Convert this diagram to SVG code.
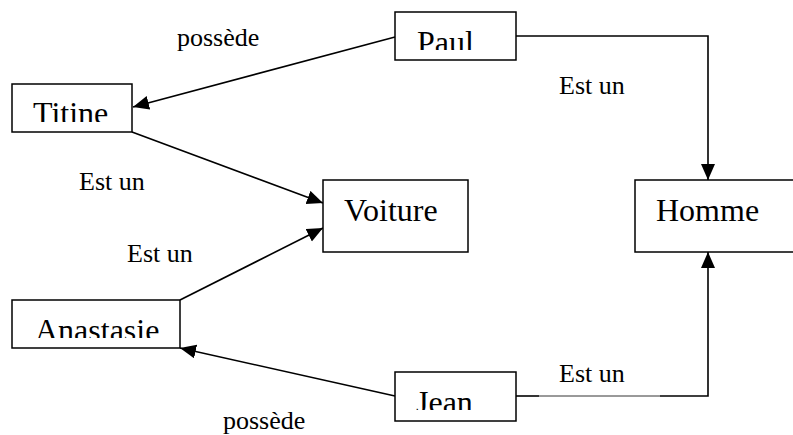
<svg xmlns="http://www.w3.org/2000/svg" width="793" height="435" viewBox="0 0 793 435">
  <style>
    .box { fill: #ffffff; stroke: #000000; stroke-width: 1.5; }
    .ntext { font-family: "Liberation Serif", "Times New Roman", serif; font-size: 32px; fill: #000000; }
    .ltext { font-family: "Liberation Serif", "Times New Roman", serif; font-size: 26px; fill: #000000; }
    .edge { fill: none; stroke: #000000; stroke-width: 1.6; }
    .thin { fill: none; stroke: #000000; stroke-width: 0.8; }
  </style>
  <defs>
    <marker id="arrow" markerUnits="userSpaceOnUse" markerWidth="17" markerHeight="15" refX="16" refY="7" orient="auto">
      <path d="M0,0 L16,7 L0,14 z" fill="#000000"/>
    </marker>
    <clipPath id="clipTitine"><rect x="12" y="84" width="120" height="38"/></clipPath>
    <clipPath id="clipPaul"><rect x="395" y="12" width="121" height="38"/></clipPath>
    <clipPath id="clipAnastasie"><rect x="12" y="300" width="168" height="38"/></clipPath>
    <clipPath id="clipJean"><rect x="395" y="372" width="121" height="38"/></clipPath>
  </defs>
  <rect x="0" y="0" width="793" height="435" fill="#ffffff"/>

  <g id="connectors">
    <path class="edge" d="M395,37 L133,107" marker-end="url(#arrow)"/>
    <path class="edge" d="M132,132 L323,203" marker-end="url(#arrow)"/>
    <path class="edge" d="M516,36 H708 V180" marker-end="url(#arrow)"/>
    <path class="edge" d="M180,300 L323,228" marker-end="url(#arrow)"/>
    <path class="edge" d="M395,396 L180,348" marker-end="url(#arrow)"/>
    <path class="edge" d="M516,396 H539"/>
    <path class="thin" d="M539,396 H660"/>
    <path class="edge" d="M660,396 H708 V252" marker-end="url(#arrow)"/>
  </g>

  <g id="labels">
    <text class="ltext" x="177" y="46">possède</text>
    <text class="ltext" x="559" y="94">Est un</text>
    <text class="ltext" x="79" y="190">Est un</text>
    <text class="ltext" x="127" y="262">Est un</text>
    <text class="ltext" x="559" y="382">Est un</text>
    <text class="ltext" x="223" y="429">possède</text>
  </g>

  <g id="node-paul">
    <rect class="box" x="395" y="12" width="121" height="48"/>
    <text class="ntext" x="417" y="53" clip-path="url(#clipPaul)">Paul</text>
  </g>
  <g id="node-titine">
    <rect class="box" x="12" y="84" width="120" height="48"/>
    <text class="ntext" x="33" y="124" clip-path="url(#clipTitine)">Titine</text>
  </g>
  <g id="node-voiture">
    <rect class="box" x="323" y="180" width="145" height="72"/>
    <text class="ntext" x="344" y="221">Voiture</text>
  </g>
  <g id="node-homme">
    <rect class="box" x="635" y="180" width="170" height="72"/>
    <text class="ntext" x="656" y="221">Homme</text>
  </g>
  <g id="node-anastasie">
    <rect class="box" x="12" y="300" width="168" height="48"/>
    <text class="ntext" x="35" y="341" clip-path="url(#clipAnastasie)">Anastasie</text>
  </g>
  <g id="node-jean">
    <rect class="box" x="395" y="372" width="121" height="49"/>
    <text class="ntext" x="416" y="413" clip-path="url(#clipJean)">Jean</text>
  </g>
</svg>
